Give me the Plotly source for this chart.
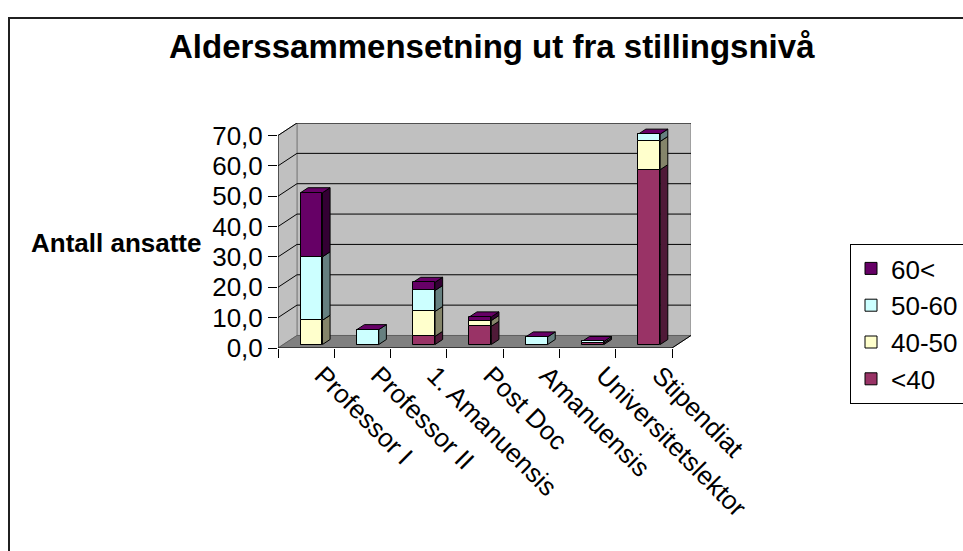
import plotly.graph_objects as go

# Verdier lest av figuren
stillinger = ["Professor I", "Professor II", "1. Amanuensis", "Post Doc",
              "Amanuensis", "Universitetslektor", "Stipendiat"]
under_40 = [0, 0, 2.7, 6.0, 0, 0.5, 57.6]
fra_40_50 = [8.0, 0, 8.2, 1.9, 0, 0, 9.3]
fra_50_60 = [20.9, 4.9, 6.9, 0, 2.5, 0.5, 2.4]
over_60 = [21.1, 0, 2.7, 1.2, 0, 0, 0]
serie_navn = ["<40", "40-50", "50-60", "60<"]
y_ticks = [0, 10, 20, 30, 40, 50, 60, 70]

# Excel-farger (front / side)
FARGER = ["#993366", "#FFFFCC", "#CCFFFF", "#660066"]
SIDER = ["#4F1A38", "#85856A", "#668080", "#330033"]
TOPP = "#660066"

W, H = 963, 551
L, R, T, B = 278, 691, 123, 348      # plotteområdet i piksler
DX, DY = 0.337, 4.12                 # dybden på 3D-boksen (akseenheter)
BAR_W = 0.39
SKIFT = (0.095, 1.15)                # forsiden av søylene ligger litt inn i boksen
DYBDE = (0.135, 1.65)                # søylenes egen dybde
FONT = "Liberation Sans, Arial, sans-serif"


def px_x(p):
    return (p - L) / (R - L)


def px_y(p):
    return (B - p) / (B - T)


def poly(pts, fill, line="#000000", width=1):
    d = "M " + " L ".join(f"{x},{y}" for x, y in pts) + " Z"
    return dict(type="path", path=d, xref="x", yref="y", fillcolor=fill,
                line=dict(color=line, width=width), layer="below")


def seg(p0, p1, color="#000000", width=1):
    return dict(type="line", xref="x", yref="y", x0=p0[0], y0=p0[1],
                x1=p1[0], y1=p1[1], line=dict(color=color, width=width),
                layer="below")


n = len(stillinger)
x0, x1 = -0.5, n - 0.5
ymax = y_ticks[-1]

shapes = [
    # bakvegg, venstre vegg og gulv
    poly([(x0 + DX, DY), (x1 + DX, DY), (x1 + DX, ymax + DY), (x0 + DX, ymax + DY)],
         "#C0C0C0", "#808080"),
    poly([(x0, 0), (x0 + DX, DY), (x0 + DX, ymax + DY), (x0, ymax)], "#C0C0C0", "#808080"),
    poly([(x0, 0), (x1, 0), (x1 + DX, DY), (x0 + DX, DY)], "#808080", "#606060"),
]
for v in y_ticks[1:]:
    shapes.append(seg((x0, v), (x0 + DX, v + DY)))
    shapes.append(seg((x0 + DX, v + DY), (x1 + DX, v + DY)))
# akselinjer
shapes.append(seg((x0, 0), (x0, ymax)))
shapes.append(seg((x0, 0), (x1, 0)))
shapes.append(seg((x1, 0), (x1 + DX, DY)))

fig = go.Figure()
serier = [under_40, fra_40_50, fra_50_60, over_60]
base = [SKIFT[1]] * n
for navn, verdier, farge, side in zip(serie_navn, serier, FARGER, SIDER):
    fig.add_bar(
        x=list(range(n)), y=verdier, base=base, name=navn,
        width=BAR_W, offset=-BAR_W / 2 + SKIFT[0],
        marker=dict(color=farge, line=dict(color="#000000", width=1)),
    )
    for i, v in enumerate(verdier):
        if v <= 0:
            continue
        xr = i - BAR_W / 2 + SKIFT[0] + BAR_W
        b = base[i]
        shapes.append(poly([(xr, b), (xr + DYBDE[0], b + DYBDE[1]),
                            (xr + DYBDE[0], b + v + DYBDE[1]), (xr, b + v)], side))
    base = [b + v for b, v in zip(base, verdier)]

# toppflater
for i in range(n):
    xl = i - BAR_W / 2 + SKIFT[0]
    xr = xl + BAR_W
    t = base[i]
    shapes.append(poly([(xl, t), (xr, t), (xr + DYBDE[0], t + DYBDE[1]),
                        (xl + DYBDE[0], t + DYBDE[1])], TOPP))

# ramme rundt hele diagrammet
shapes.append(dict(type="rect", xref="paper", yref="paper",
                   x0=px_x(9), x1=px_x(990), y0=px_y(580), y1=px_y(18),
                   line=dict(color="#202020", width=2), fillcolor="rgba(0,0,0,0)",
                   layer="below"))

fig.update_layout(
    width=W, height=H,
    margin=dict(l=L, r=W - R, t=T, b=H - B, autoexpand=False),
    paper_bgcolor="white", plot_bgcolor="white",
    barmode="overlay", bargap=0,
    separators=", ",
    font=dict(family=FONT, size=26, color="#000000"),
    shapes=shapes,
    showlegend=True,
    legend=dict(
        traceorder="reversed", x=px_x(850), y=px_y(244),
        xanchor="left", yanchor="top", bgcolor="white",
        bordercolor="#000000", borderwidth=1,
        font=dict(family=FONT, size=26), itemwidth=30,
    ),
    annotations=[
        dict(text="<b>Alderssammensetning ut fra stillingsnivå</b>",
             x=px_x(492), y=px_y(46), xref="paper", yref="paper",
             showarrow=False, xanchor="center", yanchor="middle",
             font=dict(family=FONT, size=33)),
        dict(text="<b>Antall ansatte</b>",
             x=px_x(116), y=px_y(243), xref="paper", yref="paper",
             showarrow=False, xanchor="center", yanchor="middle",
             font=dict(family=FONT, size=26)),
    ],
)
fig.update_xaxes(
    range=[x0, x1 + DX], tickmode="array", tickvals=list(range(n)),
    ticktext=stillinger, tickangle=45, ticks="", showgrid=False,
    zeroline=False, showline=False, ticklabelshift=16, ticklabelstandoff=6,
    minor=dict(ticks="outside", tickmode="linear", tick0=-0.5, dtick=1,
               ticklen=9, tickcolor="#000000", showgrid=False),
)
fig.update_yaxes(
    range=[0, ymax + DY], tickmode="array", tickvals=y_ticks,
    tickformat=".1f", ticks="outside", ticklen=9, tickcolor="#000000",
    showgrid=False, zeroline=False, showline=False,
)

# siden skal ikke ha marg rundt figuren
fig.write_html("out.html", config={"displayModeBar": False},
               post_script="document.body.style.margin = '0';")
